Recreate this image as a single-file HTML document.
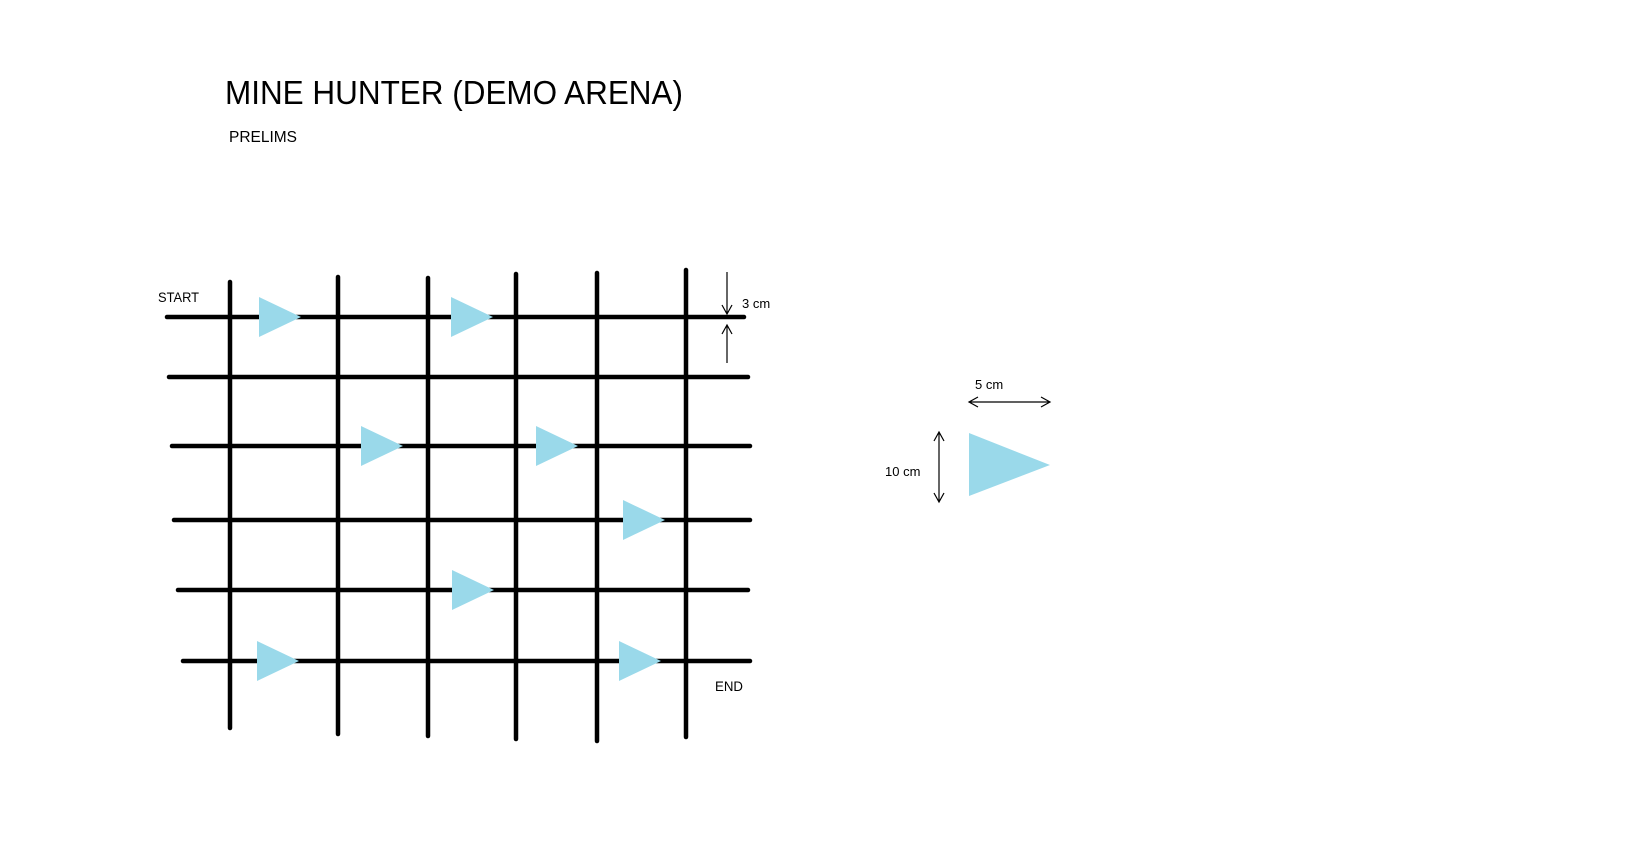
<!DOCTYPE html>
<html><head><meta charset="utf-8"><style>
html,body{margin:0;padding:0;background:#fff;width:1636px;height:842px;overflow:hidden}
svg{display:block}
text{font-family:"Liberation Sans",sans-serif;fill:#000}
</style></head><body>
<svg id="s" width="1636" height="842">
<text x="225" y="104" font-size="33" textLength="458" lengthAdjust="spacingAndGlyphs">MINE HUNTER (DEMO ARENA)</text>
<text x="229" y="142" font-size="16" textLength="68" lengthAdjust="spacingAndGlyphs">PRELIMS</text>
<text x="158" y="302" font-size="14" textLength="41" lengthAdjust="spacingAndGlyphs">START</text>
<text x="715" y="691" font-size="14" textLength="28" lengthAdjust="spacingAndGlyphs">END</text>
<text x="742" y="308" font-size="13">3 cm</text>
<text x="975" y="389" font-size="13">5 cm</text>
<text x="885" y="476" font-size="13">10 cm</text>
<g stroke="#000" stroke-width="1.2" fill="none">
<path d="M727 272V314M722 305L727 314L732 305"/>
<path d="M727 363V325M722 334L727 325L732 334"/>
<path d="M969 402H1050M978 397L969 402L978 407M1041 397L1050 402L1041 407"/>
<path d="M939 432V502M934 441L939 432L944 441M934 493L939 502L944 493"/>
</g>
<polygon points="969,433 1050,465 969,496" fill="#9ad9ea"/>
<g id="grid"></g><g id="mines"></g>
</svg>
<script>
const colX=[230,338,428,516,597,686];
const colTop=[282,277,278,274,273,270];
const colBot=[728,734,736,739,741,737];
const rowY=[317,377,446,520,590,661];
const rowL=[167,169,172,174,178,183];
const rowR=[744,748,750,750,748,750];
const mineRow=[0,0,2,2,3,4,5,5];
const mineX=[259,451,361,536,623,452,257,619];
const ns='http://www.w3.org/2000/svg';
const g=document.getElementById('grid'),m=document.getElementById('mines');
function ln(x1,y1,x2,y2){const l=document.createElementNS(ns,'line');l.setAttribute('x1',x1);l.setAttribute('y1',y1);l.setAttribute('x2',x2);l.setAttribute('y2',y2);l.setAttribute('stroke','#000');l.setAttribute('stroke-width','4.5');l.setAttribute('stroke-linecap','round');return l;}
rowY.forEach((y,i)=>{const l=ln(rowL[i],y,rowR[i],y);


g.appendChild(l);});
colX.forEach((x,i)=>{const l=ln(x,colTop[i],x,colBot[i]);


g.appendChild(l);});
mineX.forEach((x,i)=>{const y=rowY[mineRow[i]];const p=document.createElementNS(ns,'polygon');
p.setAttribute('points',`${x},${y-20} ${x+42},${y} ${x},${y+20}`);p.setAttribute('fill','#9ad9ea');


m.appendChild(p);});
</script>
</body></html>
